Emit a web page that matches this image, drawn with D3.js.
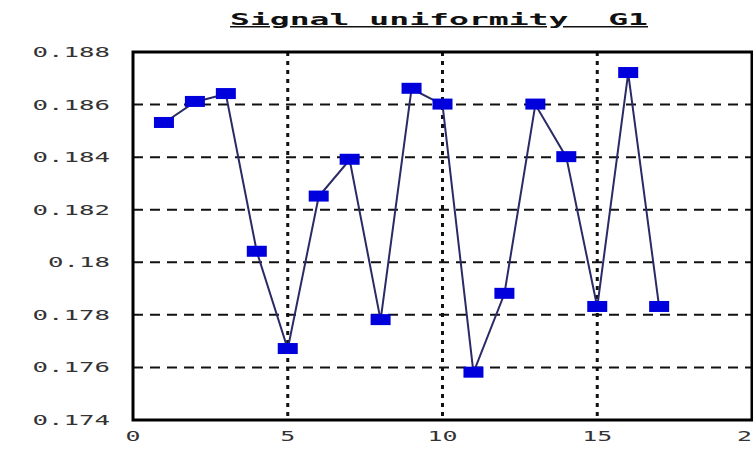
<!DOCTYPE html>
<html lang="en">
<head>
    <meta charset="UTF-8">
    <title>Signal uniformity G1</title>
    <style>
        body { margin: 0; background: #fff; }
        text { font-family: "DejaVu Sans Mono", "Liberation Mono", monospace; }
    </style>
    <script src="https://d3js.org/d3.v7.min.js"></script>
</head>
<body>
    <script>
        // values
        var xValues = [1, 2, 3, 4, 5, 6, 7, 8, 9, 10, 11, 12, 13, 14, 15, 16, 17];
        var yValues = [0.1853, 0.1861, 0.1864, 0.1804, 0.1767, 0.1825, 0.1839, 0.1778, 0.1866,
                       0.1860, 0.1758, 0.1788, 0.1860, 0.1840, 0.1783, 0.1872, 0.1783];
        var xTicks = [0, 5, 10, 15, 20];
        var yTicks = [0.174, 0.176, 0.178, 0.18, 0.182, 0.184, 0.186, 0.188];
        var title = "Signal uniformity  G1";

        var width = 753, height = 450;
        var svg = d3.select("body").append("svg")
            .attr("width", width)
            .attr("height", height);

        var x = d3.scaleLinear().domain([0, 20]).range([133, 752]);
        var y = d3.scaleLinear().domain([0.174, 0.188]).range([420, 52]);

        // title, wide and underlined (keep the double space)
        svg.append("text")
            .attr("x", 230).attr("y", 25)
            .attr("textLength", 418).attr("lengthAdjust", "spacingAndGlyphs")
            .attr("font-size", "15px").attr("font-weight", "bold")
            .attr("fill", "#111")
            .attr("text-decoration", "underline")
            .style("white-space", "pre")
            .text(title);

        // horizontal grid, dashed
        svg.selectAll(".hgrid").data(yTicks.slice(1, -1)).enter().append("line")
            .attr("class", "hgrid")
            .attr("x1", x(0)).attr("x2", x(20))
            .attr("y1", d => y(d)).attr("y2", d => y(d))
            .attr("stroke", "#111").attr("stroke-width", 2)
            .attr("stroke-dasharray", "10,7");

        // vertical grid, dotted
        svg.selectAll(".vgrid").data(xTicks.slice(1, -1)).enter().append("line")
            .attr("class", "vgrid")
            .attr("x1", d => x(d)).attr("x2", d => x(d))
            .attr("y1", y(0.188)).attr("y2", y(0.174))
            .attr("stroke", "#111").attr("stroke-width", 3)
            .attr("stroke-dasharray", "4,5");

        // frame
        svg.append("rect")
            .attr("x", x(0)).attr("y", y(0.188))
            .attr("width", x(20) - x(0)).attr("height", y(0.174) - y(0.188))
            .attr("fill", "none").attr("stroke", "#000").attr("stroke-width", 3);

        // y tick labels
        svg.selectAll(".ylab").data(yTicks).enter().append("text")
            .attr("class", "ylab")
            .attr("x", 110)
            .attr("y", d => y(d) + 5)
            .attr("text-anchor", "end")
            .attr("font-size", "14px")
            .attr("fill", "#333")
            .attr("textLength", d => d3.format("")(d).length * 15.5)
            .attr("lengthAdjust", "spacingAndGlyphs")
            .text(d => d3.format("")(d));

        // x tick labels
        svg.selectAll(".xlab").data(xTicks).enter().append("text")
            .attr("class", "xlab")
            .attr("x", d => x(d) - String(d).length * 7.5)
            .attr("y", 441)
            .attr("font-size", "14px")
            .attr("fill", "#333")
            .attr("textLength", d => String(d).length * 15)
            .attr("lengthAdjust", "spacingAndGlyphs")
            .text(d => d);

        var pts = xValues.map((d, i) => [d, yValues[i]]);

        svg.append("path")
            .datum(pts)
            .attr("fill", "none")
            .attr("stroke", "#2a2a66")
            .attr("stroke-width", 2)
            .attr("d", d3.line().x(d => x(d[0])).y(d => y(d[1])));

        svg.selectAll(".mark").data(pts).enter().append("rect")
            .attr("class", "mark")
            .attr("x", d => x(d[0]) - 10).attr("y", d => y(d[1]) - 6)
            .attr("width", 20).attr("height", 11)
            .attr("fill", "#0000dd");
    </script>
</body>
</html>
